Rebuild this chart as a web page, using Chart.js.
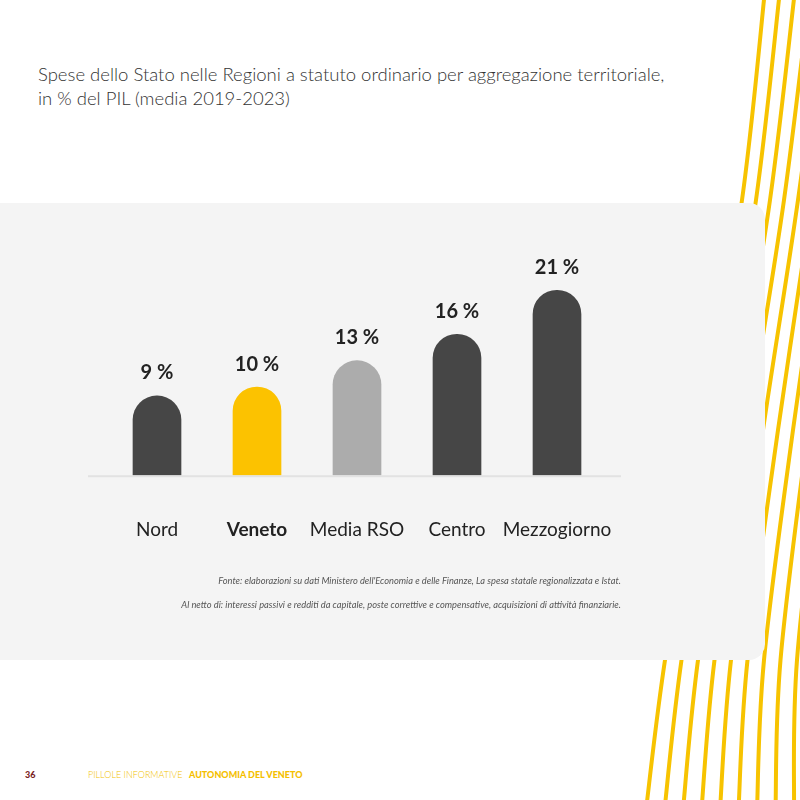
<!DOCTYPE html>
<html lang="it">
<head>
    <meta charset="UTF-8">
    <title>Spese dello Stato nelle Regioni a statuto ordinario</title>
    <style>
        body {
          margin: 0;
          width: 800px;
          height: 800px;
          position: relative;
          background: #fff;
          font-family: Lato, "Noto Sans", sans-serif;
          overflow: hidden;
        }

        #waves {
          position: absolute;
          left: 0;
          top: 0;
        }

        .title {
          position: absolute;
          left: 38px;
          top: 62px;
          font-size: 18.5px;
          font-weight: 300;
          line-height: 24px;
          color: #333;
        }

        .panel {
          position: absolute;
          left: 0;
          top: 203px;
          width: 765px;
          height: 457px;
          background: #f4f4f4;
          border-radius: 0 16px 16px 0;
        }

        .chart-box {
          position: absolute;
          left: 0;
          top: 0;
          width: 765px;
          height: 457px;
        }

        .note {
          position: absolute;
          right: 144px;
          font-size: 9.3px;
          font-style: italic;
          color: #555;
          white-space: nowrap;
        }

        .footer {
          position: absolute;
          top: 769px;
          font-size: 9px;
          white-space: nowrap;
        }
    </style>
</head>
<body>
<svg id="waves" width="800" height="800"></svg>

<div class="title">Spese dello Stato nelle Regioni a statuto ordinario per aggregazione territoriale,<br>in % del PIL (media 2019-2023)</div>

<div class="panel">
    <div class="chart-box"><canvas id="spesaChart"></canvas></div>
    <div class="note" style="top: 372px;">Fonte: elaborazioni su dati Ministero dell'Economia e delle Finanze, La spesa statale regionalizzata e Istat.</div>
    <div class="note" style="top: 396px;">Al netto di: interessi passivi e redditi da capitale, poste correttive e compensative, acquisizioni di attività finanziarie.</div>
</div>

<div class="footer" style="left: 25px; font-weight: 900; color: #7a1f1f;">36</div>
<div class="footer" style="left: 88px; font-weight: 300; color: #f2c200;">PILLOLE INFORMATIVE</div>
<div class="footer" style="left: 189px; font-weight: 900; color: #f5c000;">AUTONOMIA DEL VENETO</div>

<script src="https://cdn.jsdelivr.net/npm/chart.js"></script>
<script>
    // Data
    const categories = ['Nord', 'Veneto', 'Media RSO', 'Centro', 'Mezzogiorno'];
    const spesaPil = [9, 10, 13, 16, 21];
    const barColors = ['#464646', '#fcc200', '#acacac', '#464646', '#464646'];

    // Decorative yellow lines on the right side
    function drawWaves() {
      const svg = document.getElementById('waves');
      for (let i = 0; i < 9; i++) {
        const pts = [
          [765 + 15 * i, -10],
          [742 + 14 * i, 200],
          [703 + 15 * i, 430],
          [665 + 16.5 * i, 660],
          [646 + 18.5 * i, 810]
        ];
        let d = `M${pts[0][0]},${pts[0][1]}`;
        for (let k = 0; k < pts.length - 1; k++) {
          const p0 = pts[Math.max(k - 1, 0)];
          const p1 = pts[k];
          const p2 = pts[k + 1];
          const p3 = pts[Math.min(k + 2, pts.length - 1)];
          const c1 = [p1[0] + (p2[0] - p0[0]) / 6, p1[1] + (p2[1] - p0[1]) / 6];
          const c2 = [p2[0] - (p3[0] - p1[0]) / 6, p2[1] - (p3[1] - p1[1]) / 6];
          d += ` C${c1[0]},${c1[1]} ${c2[0]},${c2[1]} ${p2[0]},${p2[1]}`;
        }
        const path = document.createElementNS('http://www.w3.org/2000/svg', 'path');
        path.setAttribute('d', d);
        path.setAttribute('fill', 'none');
        path.setAttribute('stroke', '#f7c300');
        path.setAttribute('stroke-width', '4');
        svg.appendChild(path);
      }
    }
    drawWaves();

    // Value labels above bars + light baseline
    const extrasPlugin = {
      id: 'extras',
      beforeDatasetsDraw(chart) {
        const { ctx, chartArea, scales } = chart;
        const y0 = scales.y.getPixelForValue(0);
        ctx.save();
        ctx.strokeStyle = '#e2e2e2';
        ctx.lineWidth = 2;
        ctx.beginPath();
        ctx.moveTo(chartArea.left - 19, y0 + 1);
        ctx.lineTo(chartArea.right + 14, y0 + 1);
        ctx.stroke();
        ctx.restore();
      },
      afterDatasetsDraw(chart) {
        const { ctx } = chart;
        const meta = chart.getDatasetMeta(0);
        ctx.save();
        ctx.font = 'bold 20px Lato, "Noto Sans", sans-serif';
        ctx.fillStyle = '#222';
        ctx.textAlign = 'center';
        ctx.textBaseline = 'bottom';
        meta.data.forEach((bar, i) => {
          ctx.fillText(spesaPil[i] + ' %', bar.x, bar.y - 13);
        });
        ctx.restore();
      }
    };

    const ctx = document.getElementById('spesaChart').getContext('2d');
    const spesaChart = new Chart(ctx, {
      type: 'bar',
      data: {
        labels: categories,
        datasets: [{
          data: spesaPil,
          backgroundColor: barColors,
          barThickness: 48,
          borderRadius: 24,
          borderSkipped: 'bottom'
        }]
      },
      options: {
        responsive: true,
        maintainAspectRatio: false,
        animation: false,
        layout: {
          padding: { left: 107, right: 158, top: 52, bottom: 76 }
        },
        plugins: {
          legend: { display: false },
          tooltip: { enabled: false }
        },
        scales: {
          x: {
            grid: { display: false, drawTicks: false },
            border: { display: false },
            ticks: {
              padding: 43,
              maxRotation: 0,
              minRotation: 0,
              autoSkip: false,
              color: '#222',
              font: (c) => ({
                family: 'Lato, "Noto Sans", sans-serif',
                size: 19,
                weight: c.index === 1 ? 'bold' : 'normal'
              })
            }
          },
          y: {
            display: false,
            min: 0,
            max: 25
          }
        }
      },
      plugins: [extrasPlugin]
    });
</script>
</body>
</html>
